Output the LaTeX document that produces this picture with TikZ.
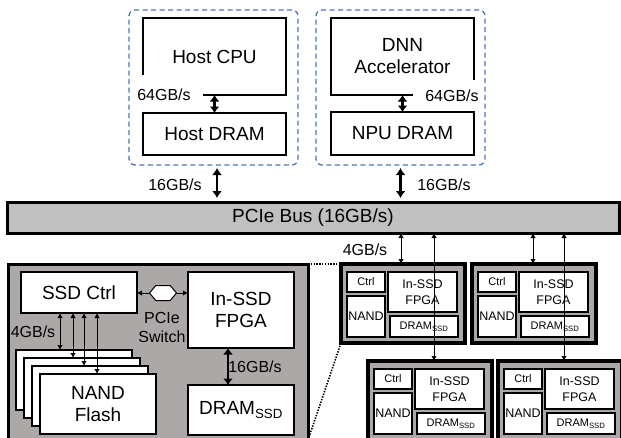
\documentclass[tikz,border=0pt]{standalone}
\usepackage{fontspec}
\setmainfont{Liberation Sans}
\usetikzlibrary{arrows.meta,shapes.symbols,calc}
\definecolor{dashblue}{RGB}{79,116,184}
\definecolor{busgray}{RGB}{192,192,192}
\definecolor{ssdgray}{RGB}{172,168,168}
\tikzset{
  bigf/.style={font=\fontsize{19}{22}\selectfont},
  midf/.style={font=\fontsize{16}{19}\selectfont},
  smf/.style={font=\fontsize{12.5}{15.5}\selectfont},
  tinyf/.style={font=\fontsize{11}{13}\selectfont},
  base/.style={inner sep=0pt, outer sep=0pt, align=center},
  wbox/.style={base, draw, fill=white, line width=2.8pt},
  openbox/.style={base},
  grp/.style={base, draw=dashblue, line width=1.3pt, dash pattern=on 5pt off 3.5pt, rounded corners=6pt},
  busbox/.style={base, draw, fill=busgray, line width=3pt},
  ssdbox/.style={base, draw, fill=ssdgray, line width=3pt},
  mini/.style={base, draw, fill=ssdgray, line width=3.5pt},
  innerw/.style={base, draw, fill=white, line width=1.6pt},
  inw/.style={base, draw, fill=white, line width=1.2pt},
  bigarr/.style={line width=2.8pt, {Latex[length=7pt,width=10pt]}-{Latex[length=7pt,width=10pt]}},
  medarr/.style={line width=2.6pt, {Latex[length=6.5pt,width=10pt]}-{Latex[length=6.5pt,width=10pt]}},
  thinarr/.style={line width=1pt, {Latex[length=5pt,width=5.5pt]}-{Latex[length=5pt,width=5.5pt]}},
  onearr/.style={line width=1pt, -{Latex[length=5pt,width=5.5pt]}},
  lbl/.style={inner sep=0pt, align=center},
  dotline/.style={line width=1.6pt, dash pattern=on 1.4pt off 1.4pt}
}
% style, name, x1, y1, x2, y2, text
\newcommand\mybox[7]{\node[#1,anchor=north west,minimum width={(#5)-(#3)},minimum height={(#6)-(#4)}] (#2) at ({#3},{#4}) {#7};}
% name, x, y
\newcommand\minissd[3]{%
  \mybox{mini}{#1}{#2}{#3}{#2+124}{#3+79}{}
  \mybox{inw,tinyf}{#1c}{#2+6}{#3+8}{#2+44}{#3+28}{Ctrl}
  \mybox{inw,smf}{#1n}{#2+6}{#3+32}{#2+44}{#3+73}{NAND}
  \mybox{inw,smf}{#1f}{#2+47}{#3+8}{#2+116}{#3+48}{In-SSD\\FPGA}
  \mybox{inw,tinyf}{#1d}{#2+49}{#3+52}{#2+117}{#3+73}{DRAM\textsubscript{SSD}}
}
\begin{document}
\begin{tikzpicture}[x=1pt,y=-1pt]
\useasboundingbox (0,0) rectangle (621,437);
\clip (0,0) rectangle (621,437);

% ---------- host side ----------
\mybox{grp}{hostg}{129}{10}{298}{165}{}
\mybox{openbox,bigf}{cpu}{143}{18}{286}{95}{Host CPU}
\draw[line width=2.8pt, line join=miter] ([yshift=-57pt]cpu.north west) -- (cpu.north west) -- (cpu.north east) -- (cpu.south east) -- ([xshift=60pt]cpu.south west);
\mybox{wbox,bigf}{hdram}{143}{113}{286}{155}{Host DRAM}
\draw[medarr] (cpu.south) -- (hdram.north);
\node[lbl,midf] (l64a) at (164,95) {64GB/s};

% ---------- accelerator side ----------
\mybox{grp}{npug}{316}{10}{485}{165}{}
\mybox{openbox,bigf}{dnn}{331}{18}{474}{95}{DNN\\Accelerator}
\draw[line width=2.8pt, line join=miter] ([xshift=82pt]dnn.south west) -- (dnn.south west) -- (dnn.north west) -- (dnn.north east) -- ([yshift=-62pt]dnn.north east);
\mybox{wbox,bigf}{ndram}{331}{112}{474}{155}{NPU DRAM}
\draw[medarr] (dnn.south) -- (ndram.north);
\node[lbl,midf] (l64b) at (452,96) {64GB/s};

% ---------- bus ----------
\mybox{busbox,bigf}{bus}{7}{202}{619}{233}{PCIe Bus (16GB/s)}
\path (hostg.south) ++(3.5,0) coordinate (h1);
\draw[bigarr, shorten <=3pt, shorten >=4pt] (h1) -- (h1 |- bus.north);
\draw[bigarr, shorten <=3pt, shorten >=4pt] (npug.south) -- (npug.south |- bus.north);
\node[lbl,midf] (l16a) at (175,185) {16GB/s};
\node[lbl,midf] (l16b) at (444,185) {16GB/s};

% ---------- big SSD ----------
\mybox{ssdbox}{big}{8}{264}{308}{440}{}
\mybox{innerw,bigf}{ssd}{21}{272}{137}{313}{SSD Ctrl}
\mybox{innerw,bigf}{fpga}{188}{272}{294}{348}{In-SSD\\FPGA}
\mybox{innerw,bigf}{dramssd}{188}{385}{294}{435}{DRAM\textsubscript{SSD}}
\mybox{innerw}{n1}{16}{350}{132}{410}{}
\mybox{innerw}{n2}{24}{358}{140}{418}{}
\mybox{innerw}{n3}{32}{366}{148}{426}{}
\mybox{innerw,bigf}{n4}{40}{374}{156}{434}{NAND\\Flash}
\foreach \dx/\n in {39/n1,52/n2,63/n3,76/n4}{
  \path (ssd.south west) ++(\dx,0) coordinate (t\n);
  \draw[thinarr] (t\n) -- (t\n |- \n.north);
}
\node[lbl,midf] (l4a) at (33,332) {4GB/s};
\node[signal, signal to=east and west, signal pointer angle=100, draw, fill=white, line width=1pt,
      minimum width=27pt, minimum height=15pt, inner sep=0pt] (hex) at (163,293) {};
\draw[onearr] (hex.west) -- (hex.west -| ssd.east);
\draw[onearr] (hex.east) -- (hex.east -| fpga.west);
\node[lbl,midf] (psw) at (162,327) {PCIe\\Switch};
\path (fpga.south) ++(-13,0) coordinate (f1);
\draw[medarr] (f1) -- (f1 |- dramssd.north);
\node[lbl,midf] (l16c) at (255,367) {16GB/s};

% ---------- mini SSDs ----------
\minissd{ba}{341}{264}
\minissd{bb}{472}{264}
\minissd{bc}{368}{361}
\minissd{bd}{498}{361}
\draw[dotline] (big.north east) -- (ba.north west);
\draw[dotline] (big.south east) -- (ba.south west);

\path (ba.north west) ++(60,0) coordinate (va);
\path (ba.north west) ++(93,0) coordinate (vb);
\path (bb.north west) ++(61,0) coordinate (vc);
\path (bb.north west) ++(92,0) coordinate (vd);
\draw[thinarr] (va |- bus.south) -- (va);
\draw[thinarr] (vb |- bus.south) -- (vb |- bc.north);
\draw[thinarr] (vc |- bus.south) -- (vc);
\draw[thinarr] (vd |- bus.south) -- (vd |- bd.north);
\node[lbl,midf] (l4b) at (365,250) {4GB/s};
\end{tikzpicture}
\end{document}
